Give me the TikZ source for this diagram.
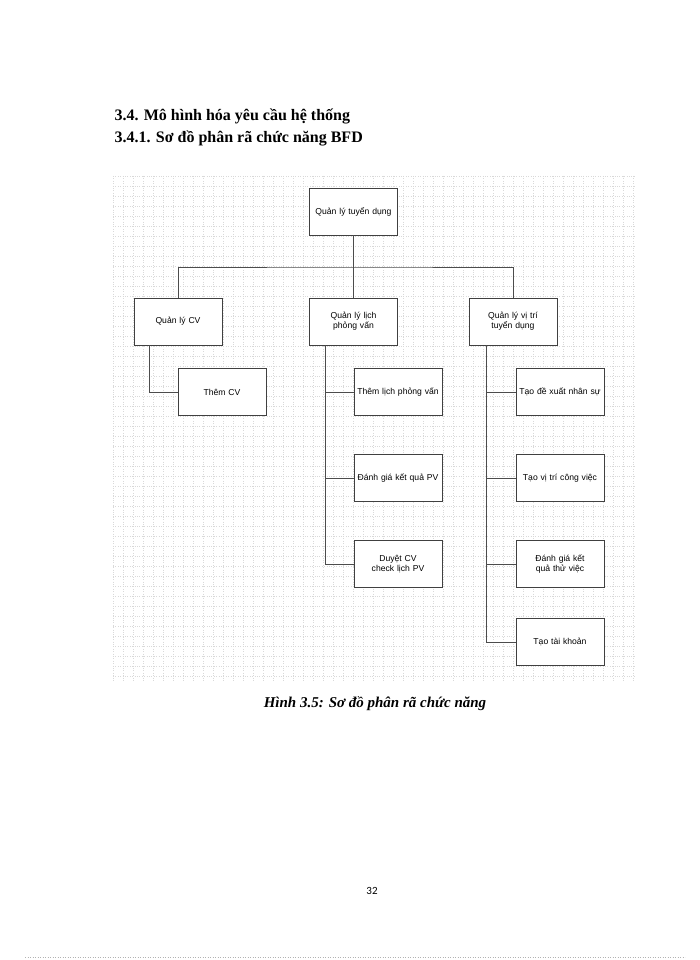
\documentclass[tikz,border=0pt]{standalone}
\usepackage{fontspec}
\setmainfont{Liberation Serif}
\newfontfamily\boxfont{Liberation Sans}
\newfontfamily\numfont{Carlito}
\begin{document}
\begin{tikzpicture}[x=1pt,y=-1pt,
  fbox/.style={draw=black!75,line width=0.9pt,minimum width=88pt,minimum height=47pt,text width=84pt,align=center,font=\boxfont\fontsize{8.6}{10}\selectfont,fill=white,inner sep=1pt},
  link/.style={draw=black!70,line width=0.9pt},
  gridl/.style={black!15,line width=0.4pt,dotted},
  head/.style={anchor=west,font=\bfseries\fontsize{16}{18}\selectfont}]
\useasboundingbox (0,0) rectangle (700,960);
\fill[white] (0,0) rectangle (700,960);
\foreach \x in {113,123,...,636}{\draw[gridl] (\x,176) -- (\x,682);}
\foreach \y in {176,186,...,682}{\draw[gridl] (113,\y) -- (636,\y);}
\node[head] (h1) at (111,116) {3.4. Mô hình hóa yêu cầu hệ thống};
\node[head] (h2) at (111,138) {3.4.1. Sơ đồ phân rã chức năng BFD};
\node[fbox] (root) at (353.5,211.5) {Quản lý tuyển dụng};
\node[fbox] (cv) at (178,321.5) {Quản lý CV};
\node[fbox] (lich) at (353.5,321.5) {Quản lý lịch phỏng vấn};
\node[fbox] (vt) at (513,321.5) {Quản lý vị trí tuyển dụng};
\node[fbox] (themcv) at (222,392) {Thêm CV};
\node[fbox] (themlich) at (398,392) {Thêm lịch phỏng vấn};
\node[fbox] (dgpv) at (398,478) {Đánh giá kết quả PV};
\node[fbox] (duyet) at (398,564) {Duyệt CV check lịch PV};
\node[fbox] (dx) at (560,392) {Tạo đề xuất nhân sự};
\node[fbox] (tvt) at (560,478) {Tạo vị trí công việc};
\node[fbox] (dgtv) at (560,564) {Đánh giá kết quả thử việc};
\node[fbox] (tk) at (560,642) {Tạo tài khoản};
\coordinate (bus) at (353.5,267);
\draw[link] (root.south) -- (bus);
\draw[link] (cv.north) |- (bus) -| (vt.north);
\draw[link] (bus) -- (lich.north);
\draw[link] (cv.south -| 149,0) |- (themcv.west);
\foreach \n in {themlich,dgpv,duyet}{\draw[link] (lich.south -| 325,0) |- (\n.west);}
\foreach \n in {dx,tvt,dgtv,tk}{\draw[link] (vt.south -| 486,0) |- (\n.west);}
\node[font=\bfseries\itshape\fontsize{15}{17}\selectfont] (cap) at (375,704) {Hình 3.5: Sơ đồ phân rã chức năng};
\node[font=\numfont\fontsize{11}{12}\selectfont] (pg) at (372,891) {32};
\draw[black!30,dotted,line width=0.5pt] (25,957) -- (685,957);
\end{tikzpicture}
\end{document}
